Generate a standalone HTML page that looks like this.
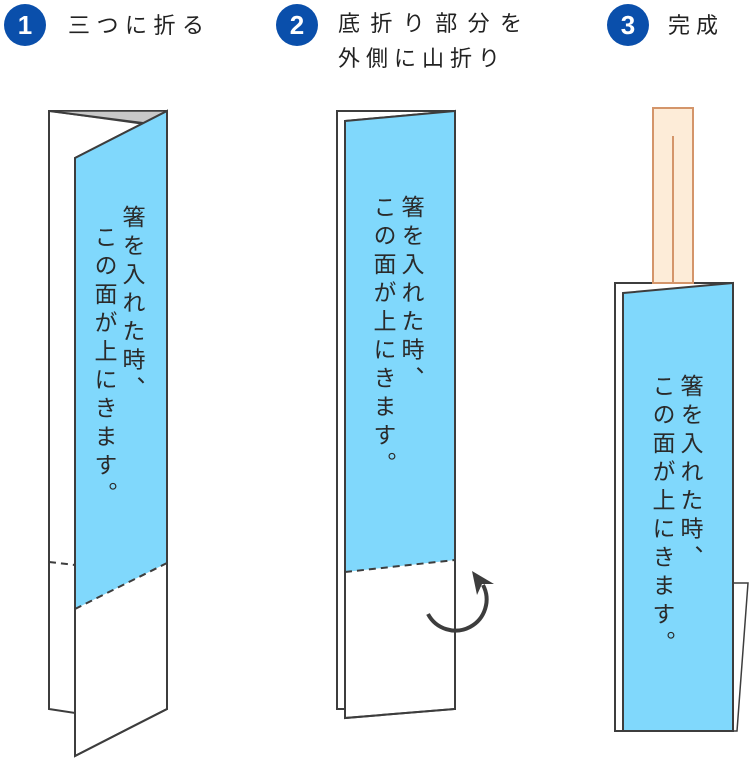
<!DOCTYPE html>
<html><head><meta charset="utf-8"><style>
html,body{margin:0;padding:0;background:#fff;width:750px;height:760px;overflow:hidden}
svg{display:block}
text{font-family:"Liberation Sans","Noto Sans CJK JP",sans-serif;fill:#333}
.v{writing-mode:vertical-rl;glyph-orientation-vertical:0;font-size:23px;fill:#2a2a2a;letter-spacing:5.5px}
</style></head><body>
<svg width="750" height="760" viewBox="0 0 750 760" xmlns="http://www.w3.org/2000/svg">
<!-- headers -->
<circle cx="25" cy="25" r="21" fill="#0a4fab"/>
<text x="25" y="34" text-anchor="middle" style="font-size:26px;font-weight:bold;fill:#fff">1</text>
<text x="68" y="33" style="font-size:22px;fill:#222" textLength="136">三つに折る</text>
<circle cx="297" cy="25" r="21" fill="#0a4fab"/>
<text x="297" y="34" text-anchor="middle" style="font-size:26px;font-weight:bold;fill:#fff">2</text>
<text x="338" y="31" style="font-size:22px;fill:#222" textLength="184">底折り部分を</text>
<text x="338" y="66" style="font-size:22px;fill:#222" textLength="162">外側に山折り</text>
<circle cx="628" cy="25" r="21" fill="#0a4fab"/>
<text x="628" y="34" text-anchor="middle" style="font-size:26px;font-weight:bold;fill:#fff">3</text>
<text x="668" y="33" style="font-size:22px;fill:#222" textLength="50">完成</text>

<g stroke="#3d3d3d" stroke-width="2" stroke-linejoin="miter">
<!-- panel 1 -->
<polygon points="49,111 167,111 167,160 75,160 75,713 49,709" fill="#fff"/>
<polygon points="49,111 167,111 143,124" fill="#c8c8c8" stroke-width="1.5"/>
<line x1="49" y1="111" x2="143" y2="123"/>
<polygon points="75,158 167,111 167,709 75,756" fill="#fff"/>
<polygon points="75,158 167,111 167,563 75,609" fill="#80d8fc" stroke="none"/>
<polygon points="75,158 167,111 167,709 75,756" fill="none"/>
<line x1="75" y1="609" x2="167" y2="563" stroke-dasharray="7,5"/>
<line x1="49" y1="562" x2="75" y2="565" stroke-dasharray="7,5"/>

<!-- panel 2 -->
<polygon points="337,111 455,111 455,709 337,709" fill="#fff"/>
<polygon points="345,121 455,111 455,709 345,718" fill="#fff"/>
<polygon points="345,121 455,111 455,560 345,572" fill="#80d8fc" stroke="none"/>
<polygon points="345,121 455,111 455,709 345,718" fill="none"/>
<line x1="345" y1="572" x2="455" y2="560" stroke-dasharray="7,5"/>
<path d="M428,614 A26,26 0 0 0 483,585" fill="none" stroke-width="4"/>
<polygon points="472,571 494,584 482,584 477,595" fill="#3d3d3d" stroke="none"/>

<!-- panel 3 -->
<polygon points="733,583 748,583 737,731 733,731" fill="#fff" stroke-width="1.5"/>
<polygon points="615,283 733,283 733,731 615,731" fill="#fff"/>
<rect x="653" y="108" width="40" height="175" fill="#fdecd8" stroke="#d4956a"/>
<line x1="673" y1="136" x2="673" y2="284" stroke="#d4956a"/>
<polygon points="623,293 733,283 733,731 623,731" fill="#80d8fc"/>
</g>

<!-- vertical texts -->
<text class="v" x="132" y="205">箸を入れた時、</text>
<text class="v" x="104" y="225">この面が上にきます。</text>
<text class="v" x="411" y="195">箸を入れた時、</text>
<text class="v" x="383" y="195">この面が上にきます。</text>
<text class="v" x="690" y="374">箸を入れた時、</text>
<text class="v" x="662" y="374">この面が上にきます。</text>
</svg>
</body></html>
